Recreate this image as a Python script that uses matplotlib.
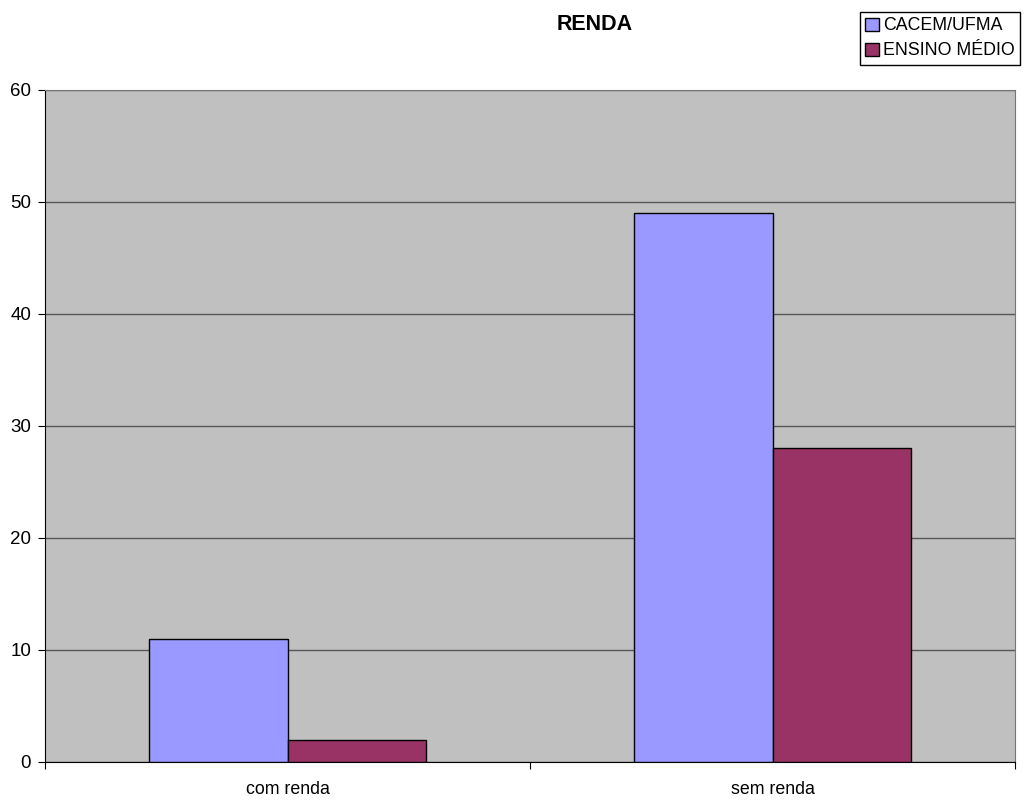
import matplotlib
matplotlib.use("Agg")
import matplotlib.pyplot as plt
import numpy as np

plt.rcParams['font.family'] = ['Liberation Sans', 'DejaVu Sans']

categories = ["com renda", "sem renda"]
series_names = ["CACEM/UFMA", "ENSINO MÉDIO"]
cacem = [11, 49]
ensino = [2, 28]
colors = ["#9999FF", "#993366"]
yticks = [0, 10, 20, 30, 40, 50, 60]

W, H = 1024, 801
fig = plt.figure(figsize=(W/100, H/100), dpi=100)
ax = fig.add_axes([45/W, (H-762)/H, 970/W, 672/H])
ax.set_facecolor("#C0C0C0")

x = np.arange(len(categories))
bw = 0.285
ax.bar(x - bw/2, cacem, bw, color=colors[0], edgecolor="black", linewidth=1, label=series_names[0], zorder=3)
ax.bar(x + bw/2, ensino, bw, color=colors[1], edgecolor="black", linewidth=1, label=series_names[1], zorder=3)

ax.set_xlim(-0.5, 1.5)
ax.set_ylim(0, 60)
ax.set_yticks(yticks)
ax.set_yticklabels([str(v) for v in yticks], fontsize=13.5)
ax.yaxis.grid(True, color="#555555", linewidth=1, zorder=1)
ax.set_axisbelow(True)

ax.set_xticks([-0.5, 0.5, 1.5])
ax.set_xticklabels([])
ax.set_xticks(x, minor=True)
ax.set_xticklabels(categories, minor=True, fontsize=12.8)
ax.tick_params(axis='x', which='minor', length=0, pad=14)
ax.tick_params(axis='x', which='major', length=5, direction='out', color="black")
ax.tick_params(axis='y', length=5, direction='out', pad=5)

for s in ["top", "right"]:
    ax.spines[s].set_color("#777777")
for s in ["left", "bottom"]:
    ax.spines[s].set_color("black")

fig.text(595/W, 1 - 24/H, "RENDA", ha="center", va="center", fontsize=15.5, fontweight="bold")

leg = fig.legend(loc="upper left", bbox_to_anchor=(860/W, 1 - 12/H), fontsize=12.8,
                 frameon=True, fancybox=False, edgecolor="black", framealpha=1,
                 handlelength=0.75, handleheight=0.75, handletextpad=0.25,
                 borderpad=0.3, labelspacing=0.45, borderaxespad=0)
leg.get_frame().set_linewidth(1)

fig.savefig("out.png", dpi=100, facecolor="white")
